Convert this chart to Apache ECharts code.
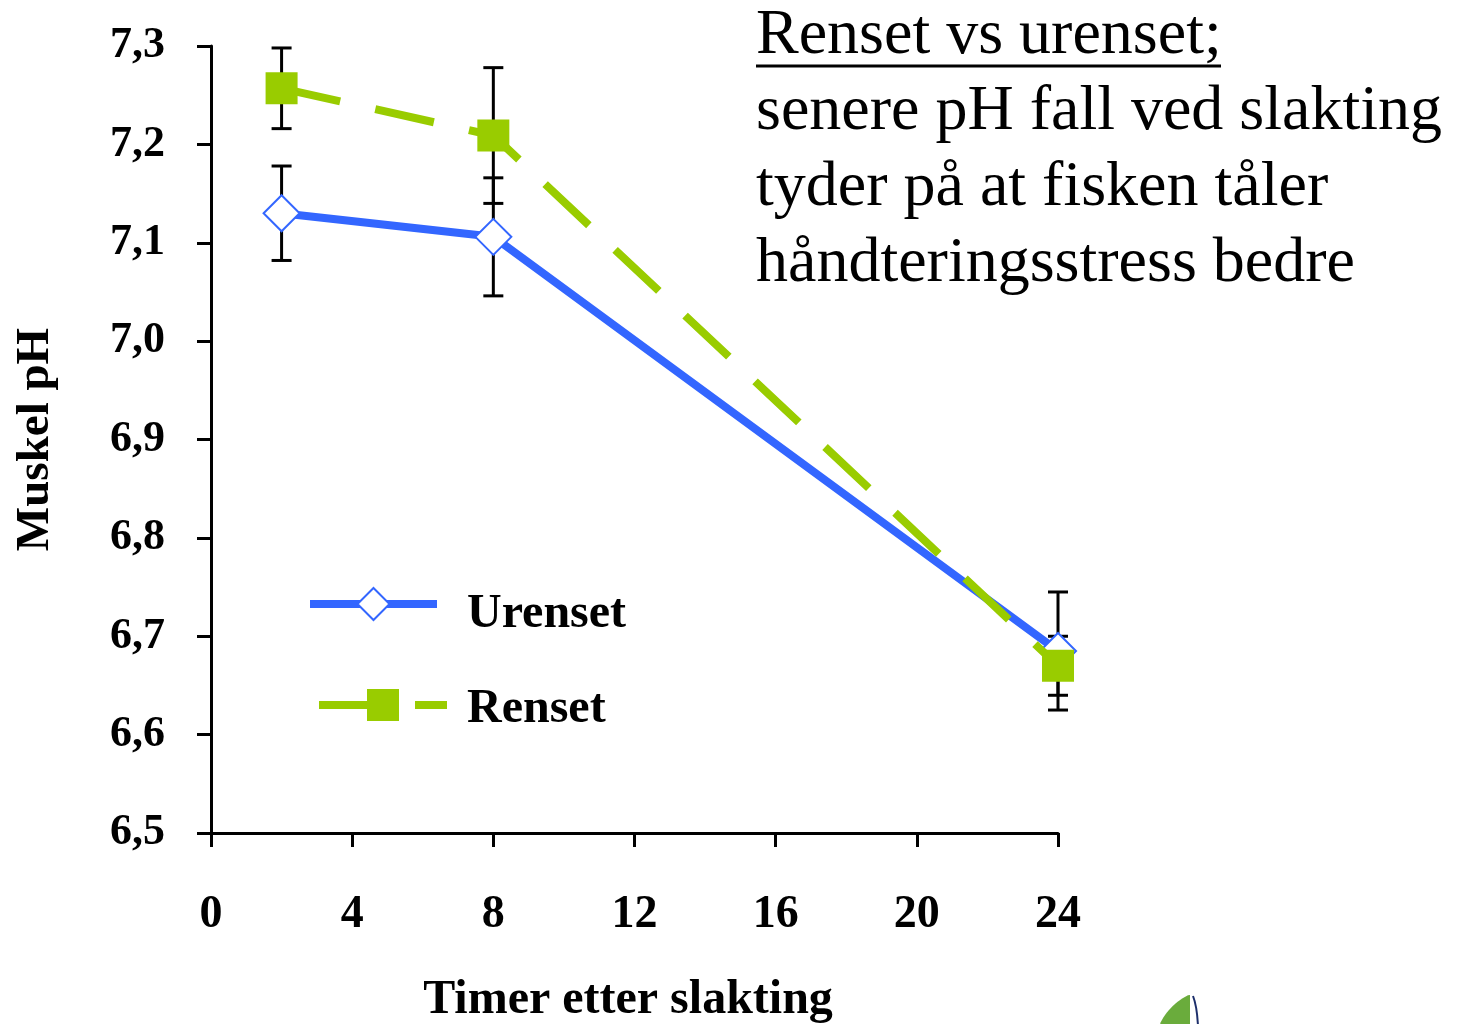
<!DOCTYPE html>
<html><head><meta charset="utf-8">
<script src="https://cdn.jsdelivr.net/npm/echarts@6/dist/echarts.min.js"></script>
<style>html,body{margin:0;padding:0;background:#fff}#c{width:1458px;height:1024px}</style>
</head><body><div id="c"></div>
<script>
const hours = [2, 8, 24];
const urenset = [7.130, 7.106, 6.685];
const urensetErr = [0.048, 0.060, 0.060];
const renset = [7.257, 7.209, 6.670];
const rensetErr = [0.041, 0.069, 0.030];
const titleLines = ['Renset vs urenset;', 'senere pH fall ved slakting', 'tyder på at fisken tåler', 'håndteringsstress bedre'];

const FONT = '"Liberation Serif","Times New Roman",serif';
const chart = echarts.init(document.getElementById('c'), null, {renderer: 'canvas'});

function errSeries(vals, errs, name) {
  return {
    type: 'custom', name: name + ' err', z: 1, silent: true,
    data: hours.map((h, i) => [h, vals[i] - errs[i], vals[i] + errs[i]]),
    renderItem: function (params, api) {
      const x = api.value(0);
      const lo = api.coord([x, api.value(1)]);
      const hi = api.coord([x, api.value(2)]);
      const w = 10;
      const st = {stroke: '#000', lineWidth: 3};
      return {type: 'group', children: [
        {type: 'line', shape: {x1: lo[0], y1: lo[1], x2: hi[0], y2: hi[1]}, style: st},
        {type: 'line', shape: {x1: lo[0] - w, y1: lo[1], x2: lo[0] + w, y2: lo[1]}, style: st},
        {type: 'line', shape: {x1: hi[0] - w, y1: hi[1], x2: hi[0] + w, y2: hi[1]}, style: st}
      ]};
    }
  };
}

const graphics = titleLines.map((t, i) => ({
  type: 'text', left: 756, top: 4 + i * 76,
  style: {text: t, font: '64px ' + FONT, fill: '#000'}
}));
graphics.push({type: 'line', shape: {x1: 756, y1: 66, x2: 1221, y2: 66}, style: {stroke: '#000', lineWidth: 3}});
// partial logo at the bottom edge
const logoPts = [];
for (let a = -2.03; a >= -2.70; a -= 0.05) logoPts.push([1215 + 61 * Math.cos(a), 1050 + 61 * Math.sin(a)]);
logoPts.push([1160, 1026], [1190, 1026], [1190, 995]);
graphics.push({type: 'polygon', shape: {points: logoPts}, style: {fill: '#6aac3c'}});
graphics.push({type: 'bezierCurve', shape: {x1: 1193, y1: 996, x2: 1198, y2: 1026, cpx1: 1197, cpy1: 1006}, style: {stroke: '#1d2f6b', lineWidth: 2, fill: null}});

const richFont = {fontFamily: FONT, fontWeight: 'bold', fontSize: 48, lineHeight: 48, color: '#000'};
const legendText = Object.assign({rich: {t: richFont}}, richFont);

chart.setOption({
  animation: false,
  grid: {left: 211, right: 400, top: 46, bottom: 191, containLabel: false, outerBoundsMode: 'none'},
  xAxis: {
    type: 'value', min: 0, max: 24, interval: 4,
    name: 'Timer etter slakting', nameLocation: 'middle', nameGap: 144,
    nameTextStyle: {fontFamily: FONT, fontWeight: 'bold', fontSize: 48, color: '#000', padding: [0, 13, 0, 0]},
    axisLine: {lineStyle: {color: '#000', width: 3}},
    axisTick: {inside: false, length: 14, lineStyle: {color: '#000', width: 3}},
    axisLabel: {margin: 59, fontFamily: FONT, fontWeight: 'bold', fontSize: 46, color: '#000'},
    splitLine: {show: false}
  },
  yAxis: {
    type: 'value', min: 6.5, max: 7.3, interval: 0.1,
    name: 'Muskel pH', nameLocation: 'middle', nameGap: 152, nameRotate: 90,
    nameTextStyle: {fontFamily: FONT, fontWeight: 'bold', fontSize: 47, color: '#000'},
    axisLine: {show: true, lineStyle: {color: '#000', width: 3}},
    axisTick: {show: true, inside: false, length: 14, lineStyle: {color: '#000', width: 3}},
    axisLabel: {margin: 46, fontFamily: FONT, fontWeight: 'bold', fontSize: 44, color: '#000',
      formatter: v => v.toFixed(1).replace('.', ',')},
    splitLine: {show: false}
  },
  legend: [
    {
      orient: 'vertical', left: 301, top: 564, itemWidth: 127, itemHeight: 40,
      data: ['Urenset'], lineStyle: {width: 8}, formatter: '{t|{name}}',
      textStyle: Object.assign({padding: [22, 0, 0, 25]}, legendText)
    },
    {
      orient: 'vertical', left: 310, top: 671.5, itemWidth: 128, itemHeight: 40,
      data: ['Renset'], lineStyle: {width: 8}, formatter: '{t|{name}}',
      textStyle: Object.assign({padding: [9, 0, 0, 15]}, legendText)
    }
  ],
  series: [
    errSeries(urenset, urensetErr, 'Urenset'),
    errSeries(renset, rensetErr, 'Renset'),
    {
      name: 'Urenset', type: 'line', z: 3,
      data: hours.map((h, i) => [h, urenset[i]]),
      symbol: 'diamond', symbolSize: 36, showAllSymbol: true,
      itemStyle: {color: '#fff', borderColor: '#3366FF', borderWidth: 2},
      lineStyle: {color: '#3366FF', width: 8}
    },
    {
      name: 'Renset', type: 'line', z: 4,
      data: hours.map((h, i) => [h, renset[i]]),
      symbol: 'rect', symbolSize: 32,
      itemStyle: {color: '#99CC00', borderWidth: 0},
      lineStyle: {color: '#99CC00', width: 8, type: [60, 36]}
    }
  ],
  graphic: graphics
});
</script></body></html>
